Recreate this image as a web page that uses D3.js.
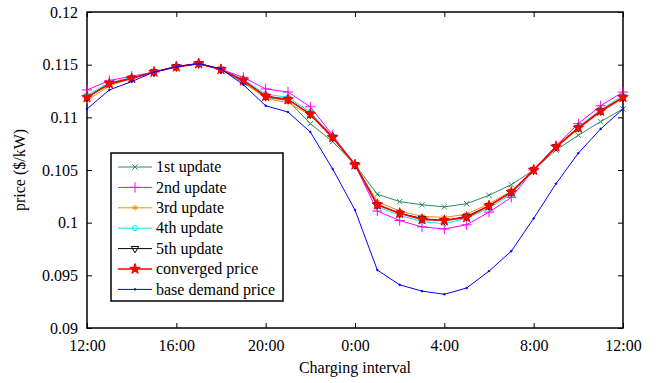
<!DOCTYPE html>
<html>
<head>
<meta charset="utf-8">
<script src="https://cdn.jsdelivr.net/npm/d3@7"></script>
<style>
  body { margin: 0; background: #fff; }
  svg text { font-family: "Liberation Serif", "Times New Roman", serif; font-size: 16px; fill: #000; }
</style>
</head>
<body>
<svg id="chart" width="659" height="383"></svg>
<script>
// hourly charging intervals, 12:00 -> 12:00 next day
const hours = d3.range(0, 25);
const tickHours = [0, 4, 8, 12, 16, 20, 24];
const tickLabels = ['12:00', '16:00', '20:00', '0:00', '4:00', '8:00', '12:00'];
const yTicks = [0.09, 0.095, 0.1, 0.105, 0.11, 0.115, 0.12];
const yTickLabels = ['0.09', '0.095', '0.1', '0.105', '0.11', '0.115', '0.12'];

const firstUpdate  = [0.1119, 0.1131, 0.1137, 0.1143, 0.1148, 0.1151, 0.11455, 0.1133, 0.1119, 0.1116, 0.1094, 0.1077, 0.1055,
                      0.1027, 0.1020, 0.1017, 0.1015, 0.1018, 0.1026, 0.1036, 0.1050, 0.1069, 0.1083, 0.1096, 0.1108];
const secondUpdate = [0.1126, 0.1135, 0.1139, 0.1143, 0.1148, 0.1151, 0.11455, 0.1138, 0.1127, 0.1124, 0.1110, 0.1083, 0.1055,
                      0.1011, 0.1002, 0.0996, 0.0994, 0.0998, 0.1010, 0.1024, 0.1050, 0.1073, 0.1094, 0.1111, 0.1124];
const thirdUpdate  = [0.1116, 0.1130, 0.1137, 0.1143, 0.1148, 0.1151, 0.11455, 0.1134, 0.1118, 0.1114, 0.1102, 0.1080, 0.1055,
                      0.1020, 0.1011, 0.1006, 0.1005, 0.1008, 0.1018, 0.1030, 0.1050, 0.1071, 0.1089, 0.1105, 0.1118];
const fourthUpdate = [0.1121, 0.1133, 0.1138, 0.1143, 0.1148, 0.1151, 0.11455, 0.1136, 0.1122, 0.1119, 0.1105, 0.1082, 0.1055,
                      0.1015, 0.1007, 0.1001, 0.0999, 0.1004, 0.1014, 0.1027, 0.1050, 0.1072, 0.1091, 0.1107, 0.1121];
const fifthUpdate  = [0.1119, 0.1132, 0.1137, 0.1143, 0.1148, 0.1151, 0.11455, 0.1135, 0.1120, 0.1117, 0.1103, 0.1081, 0.1055,
                      0.1017, 0.1009, 0.1004, 0.1002, 0.1006, 0.1016, 0.1029, 0.1050, 0.1072, 0.1090, 0.1106, 0.1119];
const converged    = [0.1119, 0.1132, 0.1137, 0.1143, 0.1148, 0.1151, 0.11455, 0.1135, 0.1120, 0.1117, 0.1103, 0.1081, 0.1055,
                      0.1017, 0.1009, 0.1003, 0.1002, 0.1005, 0.1016, 0.1029, 0.1050, 0.1072, 0.1090, 0.1106, 0.1119];
const baseDemand   = [0.1108, 0.1126, 0.1134, 0.1143, 0.1148, 0.1151, 0.1146, 0.1131, 0.1111, 0.1105, 0.1086, 0.1051, 0.1012,
                      0.0955, 0.0941, 0.0935, 0.0932, 0.0938, 0.0954, 0.0973, 0.1004, 0.1037, 0.1066, 0.1089, 0.1108];

const seriesNames = ['1st update', '2nd update', '3rd update', '4th update', '5th update', 'converged price', 'base demand price'];
const seriesValues = [firstUpdate, secondUpdate, thirdUpdate, fourthUpdate, fifthUpdate, converged, baseDemand];

// styling per series
const styles = [
  { color: '#2e8b57', symbol: d3.symbolX, size: 20, fill: false, width: 1 },
  { color: '#ff00ff', symbol: d3.symbolPlus, size: 36, fill: false, width: 1 },
  { color: '#f08c10', symbol: d3.symbolAsterisk, size: 26, fill: false, width: 1 },
  { color: '#00eeee', symbol: d3.symbolCircle, size: 20, fill: false, width: 1 },
  { color: '#000000', symbol: d3.symbolTriangle, size: 24, fill: false, width: 1, rotate: 180 },
  { color: '#ff0000', symbol: d3.symbolStar, size: 34, fill: true, width: 1.6 },
  { color: '#0000ff', symbol: d3.symbolCircle, size: 2, fill: true, width: 1 }
];

const svg = d3.select('#chart'),
    margin = { top: 12, right: 36, bottom: 55, left: 87 },
    width = +svg.attr('width') - margin.left - margin.right,
    height = +svg.attr('height') - margin.top - margin.bottom;

const x = d3.scaleLinear().domain([0, 24]).range([0, width]);
const y = d3.scaleLinear().domain([0.09, 0.12]).range([height, 0]);

const g = svg.append('g')
    .attr('transform', 'translate(' + margin.left + ',' + margin.top + ')');

// axes, ticks pointing inward, mirrored on top and right
g.append('g')
    .attr('transform', 'translate(0,' + height + ')')
    .call(d3.axisBottom(x).tickValues(tickHours).tickSizeInner(-5).tickSizeOuter(0).tickPadding(12)
        .tickFormat((d, i) => tickLabels[i]));
g.append('g')
    .call(d3.axisTop(x).tickValues(tickHours).tickSizeInner(-5).tickSizeOuter(0).tickFormat(''));
g.append('g')
    .call(d3.axisLeft(y).tickValues(yTicks).tickSizeInner(-5).tickSizeOuter(0).tickPadding(9)
        .tickFormat((d, i) => yTickLabels[i]));
g.append('g')
    .attr('transform', 'translate(' + width + ',0)')
    .call(d3.axisRight(y).tickValues(yTicks).tickSizeInner(-5).tickSizeOuter(0).tickFormat(''));

g.selectAll('.domain').remove();
g.selectAll('.tick line').attr('stroke', '#000').attr('stroke-width', 1);
g.selectAll('.tick text')
    .style('font-family', '"Liberation Serif", "Times New Roman", serif')
    .style('font-size', '16px')
    .style('fill', '#000');

// frame
g.append('rect')
    .attr('width', width).attr('height', height)
    .attr('fill', 'none').attr('stroke', '#000').attr('stroke-width', 1.5);

const line = d3.line()
    .x((d, i) => x(hours[i]))
    .y((d) => y(d));

function marker(sel, st) {
  sel.attr('d', d3.symbol().type(st.symbol).size(st.size))
     .attr('fill', st.fill ? st.color : 'none')
     .attr('stroke', st.color)
     .attr('stroke-width', 1);
}

seriesValues.forEach((vals, k) => {
  const st = styles[k];
  g.append('path')
      .datum(vals)
      .attr('fill', 'none')
      .attr('stroke', st.color)
      .attr('stroke-width', st.width)
      .attr('d', line);
  g.selectAll('.m' + k)
      .data(vals)
      .enter().append('path')
      .attr('class', 'm' + k)
      .attr('transform', (d, i) => 'translate(' + x(hours[i]) + ',' + y(d) + ')' + (st.rotate ? ' rotate(' + st.rotate + ')' : ''))
      .call(marker, st);
});

// legend
const legend = svg.append('g').attr('transform', 'translate(111,153)');
legend.append('rect')
    .attr('width', 172).attr('height', 148)
    .attr('fill', '#fff').attr('stroke', '#000').attr('stroke-width', 1.5);
seriesNames.forEach((name, k) => {
  const st = styles[k];
  const ly = 14 + k * 20.4;
  legend.append('line')
      .attr('x1', 7).attr('x2', 41).attr('y1', ly).attr('y2', ly)
      .attr('stroke', st.color).attr('stroke-width', st.width);
  legend.append('path')
      .attr('transform', 'translate(24,' + ly + ')' + (st.rotate ? ' rotate(' + st.rotate + ')' : ''))
      .call(marker, st);
  legend.append('text')
      .attr('x', 45).attr('y', ly).attr('dy', '0.33em')
      .text(name);
});

// axis titles
svg.append('text')
    .attr('x', margin.left + width / 2).attr('y', 373)
    .attr('text-anchor', 'middle')
    .text('Charging interval');
svg.append('text')
    .attr('transform', 'translate(25,' + (margin.top + height / 2) + ') rotate(-90)')
    .attr('text-anchor', 'middle')
    .text('price ($/kW)');
</script>
</body>
</html>
